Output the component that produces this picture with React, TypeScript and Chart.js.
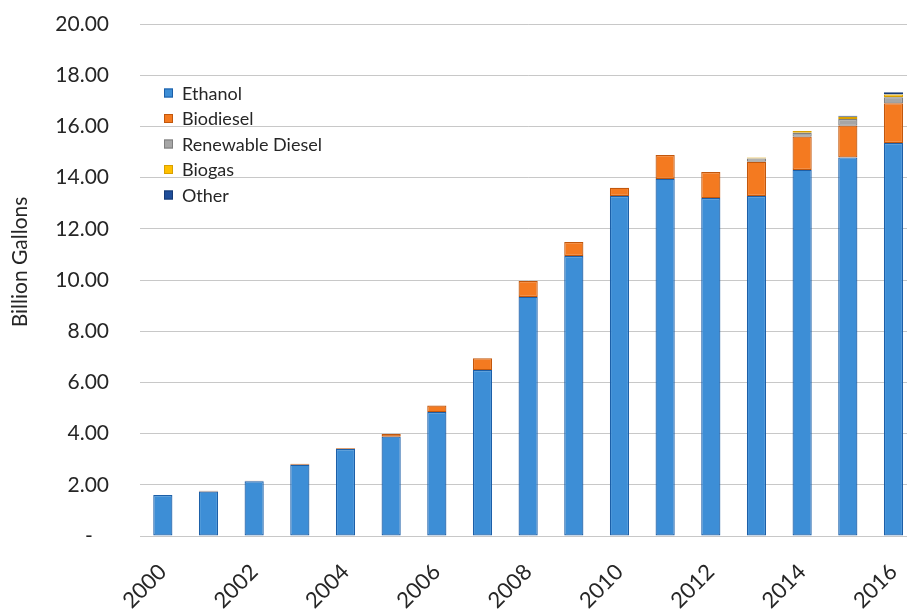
import React, { useEffect, useRef } from 'react';
import { Chart, registerables } from 'chart.js';

Chart.register(...registerables);

const years = ['2000','2001','2002','2003','2004','2005','2006','2007','2008','2009','2010','2011','2012','2013','2014','2015','2016'];
const ethanol = [1.60, 1.74, 2.14, 2.78, 3.40, 3.88, 4.84, 6.48, 9.34, 10.94, 13.28, 13.95, 13.20, 13.28, 14.30, 14.79, 15.35];
const biodiesel = [0.0, 0.03, 0.02, 0.04, 0.03, 0.10, 0.26, 0.46, 0.62, 0.54, 0.32, 0.93, 1.02, 1.34, 1.30, 1.24, 1.55];
const renewableDiesel = [0, 0, 0, 0, 0, 0, 0, 0, 0, 0, 0, 0, 0, 0.13, 0.15, 0.26, 0.24];
const biogas = [0, 0, 0, 0, 0, 0, 0, 0, 0, 0, 0, 0, 0, 0.04, 0.07, 0.09, 0.11];
const other = [0, 0, 0, 0, 0, 0, 0, 0, 0, 0, 0, 0, 0, 0, 0, 0.04, 0.08];
const yTicks = [0, 2, 4, 6, 8, 10, 12, 14, 16, 18, 20];
const yTitle = 'Billion Gallons';

const FONT = 'Lato, "Open Sans", "DejaVu Sans", sans-serif';
const TEXT = '#262626';

const series = [
  { label: 'Ethanol', data: ethanol, fill: '#3d8ed6', border: '#1c5fa8' },
  { label: 'Biodiesel', data: biodiesel, fill: '#f47a20', border: '#c2570c' },
  { label: 'Renewable Diesel', data: renewableDiesel, fill: '#a6a6a6', border: '#7f7f7f' },
  { label: 'Biogas', data: biogas, fill: '#ffc000', border: '#d9a000' },
  { label: 'Other', data: other, fill: '#1f4e9a', border: '#163a75' },
];

const legendPlugin = {
  id: 'insideLegend',
  afterDraw(chart: any) {
    const ctx = chart.ctx;
    ctx.save();
    ctx.font = `18px ${FONT}`;
    ctx.textBaseline = 'middle';
    ctx.textAlign = 'left';
    chart.data.datasets.forEach((ds: any, i: number) => {
      const cy = 93 + i * 25.5;
      ctx.fillStyle = ds.backgroundColor;
      ctx.fillRect(164, cy - 4.5, 9, 9);
      ctx.strokeStyle = ds.borderColor;
      ctx.lineWidth = 1;
      ctx.strokeRect(164.5, cy - 4, 8, 8);
      ctx.fillStyle = TEXT;
      ctx.fillText(ds.label, 182, cy + 1);
    });
    ctx.restore();
  },
};

const yTitlePlugin = {
  id: 'yTitle',
  afterDraw(chart: any) {
    const ctx = chart.ctx;
    ctx.save();
    ctx.translate(20, 262);
    ctx.rotate(-Math.PI / 2);
    ctx.font = `21px ${FONT}`;
    ctx.fillStyle = TEXT;
    ctx.textAlign = 'center';
    ctx.textBaseline = 'middle';
    ctx.fillText(yTitle, 0, 0);
    ctx.restore();
  },
};

export default function App() {
  const ref = useRef<HTMLCanvasElement | null>(null);

  useEffect(() => {
    if (!ref.current) return;
    const chart = new Chart(ref.current, {
      type: 'bar',
      data: {
        labels: years,
        datasets: series.map((s) => ({
          label: s.label,
          data: s.data,
          backgroundColor: s.fill,
          borderColor: s.border,
          borderWidth: (c: any) => (c.raw > 0 ? 1.2 : 0),
          borderSkipped: false,
          barPercentage: 0.42,
          categoryPercentage: 1,
        })),
      },
      options: {
        responsive: false,
        animation: false,
        layout: { padding: { top: 24, right: 13.7, bottom: 0, left: 0 } },
        plugins: {
          legend: { display: false },
          tooltip: { enabled: false },
        },
        scales: {
          x: {
            stacked: true,
            grid: { display: false },
            border: { display: false },
            ticks: {
              autoSkip: false,
              maxRotation: 45,
              minRotation: 45,
              padding: 15,
              color: TEXT,
              font: { family: FONT, size: 22 },
              callback: (_v: any, i: number) => (i % 2 === 0 ? years[i] : null),
            },
            afterFit: (scale: any) => { scale.height = 77; },
          },
          y: {
            stacked: true,
            min: 0,
            max: 20,
            afterBuildTicks: (scale: any) => { scale.ticks = yTicks.map((v) => ({ value: v })); },
            grid: { color: '#c8c8c8', lineWidth: 1, drawTicks: false },
            border: { display: false },
            ticks: {
              padding: 31,
              color: TEXT,
              font: { family: FONT, size: 21 },
              callback: (v: any) => (Number(v) === 0 ? '-   ' : Number(v).toFixed(2)),
            },
            afterFit: (scale: any) => {
              scale.width = 140;
              scale.paddingTop = 0;
              scale.paddingBottom = 0;
            },
          },
        },
      },
      plugins: [legendPlugin, yTitlePlugin],
    } as any);
    return () => chart.destroy();
  }, []);

  return (
    <div style={{ position: 'fixed', left: 0, top: 0, width: 907, height: 613, overflow: 'hidden', background: '#fff' }}>
      <canvas ref={ref} width={930} height={613} style={{ display: 'block' }} />
    </div>
  );
}
